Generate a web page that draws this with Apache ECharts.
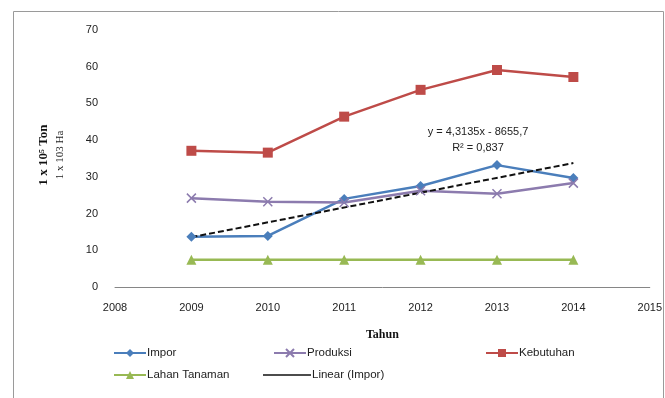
<!DOCTYPE html>
<html><head><meta charset="utf-8">
<script src="https://cdn.jsdelivr.net/npm/echarts@6/dist/echarts.min.js"></script>
<style>html,body{margin:0;padding:0;background:#fff}#c{width:665px;height:398px}</style>
</head><body><div id="c"></div>
<script>
const years = [2009, 2010, 2011, 2012, 2013, 2014];
const impor = [13.7, 13.9, 24.0, 27.5, 33.2, 29.7];
const produksi = [24.2, 23.2, 23.0, 26.2, 25.4, 28.3];
const kebutuhan = [37.1, 36.6, 46.4, 53.7, 59.1, 57.2];
const lahan = [7.4, 7.4, 7.4, 7.4, 7.4, 7.4];
const yTicks = [0, 10, 20, 30, 40, 50, 60, 70];
const xTicks = [2008, 2009, 2010, 2011, 2012, 2013, 2014, 2015];
const names = ['Impor', 'Produksi', 'Kebutuhan', 'Lahan Tanaman', 'Linear (Impor)'];
const eqLine1 = 'y = 4,3135x - 8655,7';
const eqLine2 = 'R² = 0,837';

// linear trendline of Impor (least squares)
const n = years.length;
const mx = years.reduce((a, b) => a + b, 0) / n;
const my = impor.reduce((a, b) => a + b, 0) / n;
let sxy = 0, sxx = 0;
for (let i = 0; i < n; i++) { sxy += (years[i] - mx) * (impor[i] - my); sxx += (years[i] - mx) ** 2; }
const slope = sxy / sxx, icpt = my - slope * mx;
const trend = [years[0], years[n - 1]].map(x => [x, icpt + slope * x]);

const pair = arr => years.map((x, i) => [x, arr[i]]);
const xSym = 'path://M0,0 L10,10 M10,0 L0,10';

const chart = echarts.init(document.getElementById('c'));
const font = 'Liberation Sans';
const legendItem = (item, left, top, extra) => Object.assign({
  data: [item], left, top, itemWidth: 32, itemHeight: 10, itemGap: 0,
  textStyle: { fontFamily: font, fontSize: 11.5, color: '#222', padding: [0, 0, 0, -4] },
  selectedMode: false
}, extra || {});
chart.setOption({
  animation: false,
  textStyle: { fontFamily: font },
  grid: { left: 115, right: 15, top: 30, bottom: 111, containLabel: false },
  xAxis: {
    type: 'value', min: xTicks[0], max: xTicks[xTicks.length - 1], interval: 1,
    name: 'Tahun', nameLocation: 'middle', nameGap: 42,
    nameTextStyle: { fontFamily: 'Liberation Serif', fontWeight: 'bold', fontSize: 12, color: '#111' },
    axisLine: { lineStyle: { color: '#868686', width: 1 } },
    axisTick: { show: false },
    splitLine: { show: false },
    axisLabel: { formatter: v => String(v), fontSize: 11, color: '#222', margin: 15 }
  },
  yAxis: {
    type: 'value', min: yTicks[0], max: yTicks[yTicks.length - 1], interval: 10,
    axisLine: { show: false }, axisTick: { show: false }, splitLine: { show: false },
    axisLabel: { fontSize: 11, color: '#222', margin: 17 }
  },
  legend: [
    legendItem(names[0], 108, 342),
    legendItem(names[1], 268, 342),
    legendItem(names[2], 480, 342),
    legendItem(names[3], 108, 364),
    legendItem({ name: names[4], icon: 'rect', itemStyle: { color: '#111' } }, 258, 364, { itemWidth: 48, itemHeight: 1.5 })
  ],
  series: [
    { name: names[0], type: 'line', data: pair(impor), symbol: 'diamond', symbolSize: 10,
      lineStyle: { color: '#4A7EBB', width: 2.5 }, itemStyle: { color: '#4A7EBB' } },
    { name: names[1], type: 'line', data: pair(produksi), symbol: xSym, symbolSize: 9,
      lineStyle: { color: '#8C7BAE', width: 2.5 }, itemStyle: { color: 'transparent', borderColor: '#8C7BAE', borderWidth: 1.5 } },
    { name: names[2], type: 'line', data: pair(kebutuhan), symbol: 'rect', symbolSize: 10,
      lineStyle: { color: '#BE4B48', width: 2.5 }, itemStyle: { color: '#BE4B48' } },
    { name: names[3], type: 'line', data: pair(lahan), symbol: 'triangle', symbolSize: 10,
      lineStyle: { color: '#98B954', width: 2.5 }, itemStyle: { color: '#98B954' } },
    { name: names[4], type: 'line', data: trend, symbol: 'none',
      lineStyle: { color: '#111', width: 2, type: [6, 3] }, itemStyle: { color: '#111' } }
  ],
  graphic: [
    { type: 'rect', left: 11, top: 9, shape: { width: 650, height: 400 },
      style: { fill: 'none', stroke: '#9a9a9a', lineWidth: 1 }, silent: true },
    { type: 'text', x: 44, y: 155, rotation: Math.PI / 2,
      style: { text: '1 x 10⁵ Ton', font: 'bold 13px "Liberation Serif"', fill: '#111', align: 'center', verticalAlign: 'middle' } },
    { type: 'text', x: 60, y: 155, rotation: Math.PI / 2,
      style: { text: '1 x 103 Ha', font: '11px "Liberation Serif"', fill: '#222', align: 'center', verticalAlign: 'middle' } },
    { type: 'text', x: 478, y: 132,
      style: { text: eqLine1, font: '11px "Liberation Sans"', fill: '#222', align: 'center', verticalAlign: 'middle' } },
    { type: 'text', x: 478, y: 148,
      style: { text: eqLine2, font: '11px "Liberation Sans"', fill: '#222', align: 'center', verticalAlign: 'middle' } }
  ]
});
</script></body></html>
